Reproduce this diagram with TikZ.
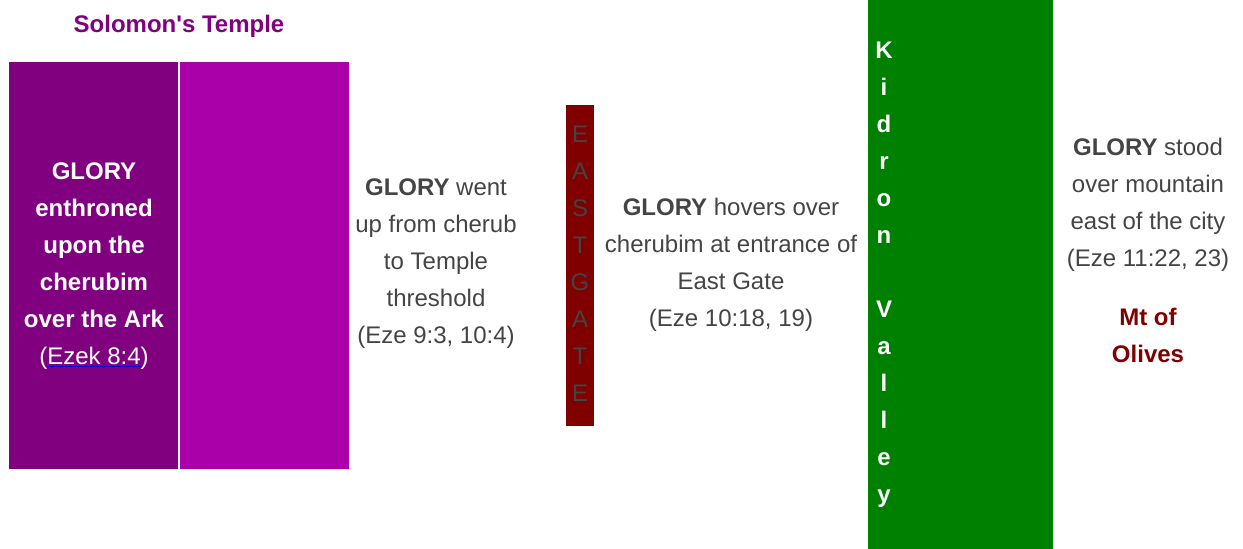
\documentclass[tikz,border=0pt]{standalone}
\usepackage{fontspec}
\setmainfont{Liberation Sans}
\definecolor{dpurple}{HTML}{800080}
\definecolor{lpurple}{HTML}{AA00AA}
\definecolor{maroon}{HTML}{800000}
\definecolor{dgreen}{HTML}{008000}
\definecolor{txtgray}{HTML}{444444}
\definecolor{linkblue}{HTML}{0000EE}
\begin{document}
\begin{tikzpicture}[x=1pt,y=-1pt,
  body/.style={font=\fontsize{24}{37}\selectfont, align=center, inner sep=0pt, text=txtgray},
  boldbody/.style={body, font=\fontsize{24}{37}\selectfont\bfseries}]
\useasboundingbox (0,0) rectangle (1243,549);
% rectangles
\fill[dpurple] (9,62) rectangle (178,469);
\fill[lpurple] (180,62) rectangle (349,469);
\fill[maroon] (566,105) rectangle (594,426);
\fill[dgreen] (868,0) rectangle (1053,549);
% title
\node[boldbody, text=dpurple] (title) at (179,26) {Solomon\textquotesingle s Temple};
% texts
\node[body, text=white] (ark) at (94,266) {\textbf{GLORY}\\\textbf{enthroned}\\\textbf{upon the}\\\textbf{cherubim}\\\textbf{over the Ark}\\(\textcolor{linkblue}{\underline{\textcolor{white}{Ezek 8:4}}})};
\node[body] (threshold) at (436,264) {\textbf{GLORY} went\\up from cherub\\to Temple\\threshold\\(Eze 9:3, 10:4)};
\node[body] (gate) at (580,264) {E\\A\\S\\T\\G\\A\\T\\E};
\node[body] (hover) at (731,265) {\textbf{GLORY} hovers over\\cherubim at entrance of\\East Gate\\(Eze 10:18, 19)};
\node[boldbody, text=white] (kidron) at (884,275) {K\\i\\d\\r\\o\\n\\[37pt]V\\a\\l\\l\\e\\y};
\node[body] (stood) at (1148,205) {\textbf{GLORY} stood\\over mountain\\east of the city\\(Eze 11:22, 23)};
\node[boldbody, text=maroon] (olives) at (1148,335) {Mt of\\Olives};
\end{tikzpicture}
\end{document}
